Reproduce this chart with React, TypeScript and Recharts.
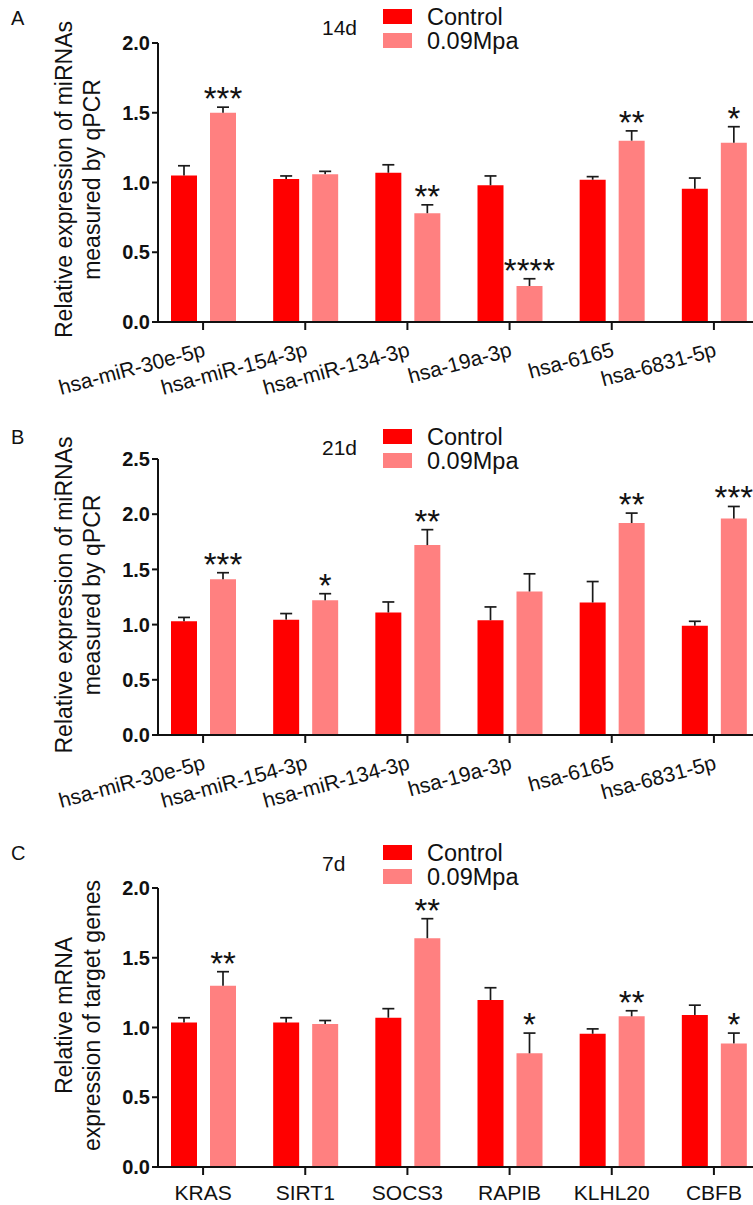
import React from 'react';
import { BarChart, Bar, XAxis, YAxis, LabelList, Legend } from 'recharts';

const FONT = '"Liberation Sans", Arial, Helvetica, sans-serif';

const mirnaCategories = ['hsa-miR-30e-5p', 'hsa-miR-154-3p', 'hsa-miR-134-3p', 'hsa-19a-3p', 'hsa-6165', 'hsa-6831-5p'];
const geneCategories = ['KRAS', 'SIRT1', 'SOCS3', 'RAPIB', 'KLHL20', 'CBFB'];
const seriesNames = ['Control', '0.09Mpa'];

// Panel A: 14d
const a14Control = [1.05, 1.025, 1.07, 0.98, 1.02, 0.955];
const a14ControlSem = [0.07, 0.022, 0.057, 0.067, 0.022, 0.077];
const a14Treated = [1.5, 1.06, 0.78, 0.258, 1.3, 1.285];
const a14TreatedSem = [0.04, 0.02, 0.06, 0.052, 0.07, 0.115];
const a14Sig = ['***', '', '**', '****', '**', '*'];

// Panel B: 21d
const b21Control = [1.03, 1.045, 1.11, 1.04, 1.2, 0.99];
const b21ControlSem = [0.035, 0.055, 0.095, 0.12, 0.19, 0.04];
const b21Treated = [1.41, 1.22, 1.72, 1.3, 1.92, 1.96];
const b21TreatedSem = [0.06, 0.06, 0.14, 0.16, 0.09, 0.11];
const b21Sig = ['***', '*', '**', '', '**', '***'];

// Panel C: 7d
const c7Control = [1.035, 1.035, 1.07, 1.197, 0.955, 1.09];
const c7ControlSem = [0.035, 0.035, 0.065, 0.088, 0.035, 0.07];
const c7Treated = [1.3, 1.025, 1.64, 0.815, 1.08, 0.886];
const c7TreatedSem = [0.1, 0.025, 0.14, 0.145, 0.04, 0.074];
const c7Sig = ['**', '', '**', '*', '**', '*'];

const ticks2 = [0, 0.5, 1, 1.5, 2];
const ticks25 = [0, 0.5, 1, 1.5, 2, 2.5];

const COLORS = ['#FF0000', '#FF8080'];

const ErrShape = (props: any) => {
  const { x, y, width, height } = props;
  if (!height || height <= 0) return null;
  const cx = x + width / 2;
  return (
    <g>
      <line x1={cx} x2={cx} y1={y} y2={y + height} stroke="#1a1a1a" strokeWidth={1.7} />
      <line x1={cx - 6} x2={cx + 6} y1={y} y2={y} stroke="#1a1a1a" strokeWidth={1.7} />
    </g>
  );
};

const SigLabel = (props: any) => {
  const { x, y, width, value } = props;
  if (!value) return null;
  return (
    <text x={x + width / 2} y={y + 3} textAnchor="middle" fontSize={33} fontFamily={FONT} fill="#111">
      {value}
    </text>
  );
};

const RotTick = (props: any) => {
  const { x, y, payload } = props;
  return (
    <g transform={`translate(${x},${y})`}>
      <text x={-3} y={24} textAnchor="end" transform="rotate(-15)" fontSize={21} fontFamily={FONT} fill="#111">
        {payload.value}
      </text>
    </g>
  );
};

const FlatTick = (props: any) => {
  const { x, y, payload } = props;
  return (
    <text x={x} y={y + 23} textAnchor="middle" fontSize={21} fontFamily={FONT} fill="#111">
      {payload.value}
    </text>
  );
};

const YLabel = (props: any) => {
  const { viewBox, lines, shift } = props;
  const cy = viewBox.y + viewBox.height / 2 + shift;
  const xs = [64, 92];
  return (
    <g>
      {lines.map((l: string, i: number) => (
        <text
          key={i}
          transform={`translate(${xs[i]},${cy}) rotate(-90)`}
          textAnchor="middle"
          dominantBaseline="central"
          fontSize={23}
          fontFamily={FONT}
          fill="#111"
        >
          {l}
        </text>
      ))}
    </g>
  );
};

const LegendBox = ({ title }: { title: string }) => (
  <div style={{ position: 'relative', width: 240, height: 52, fontFamily: FONT, color: '#111' }}>
    <div style={{ position: 'absolute', left: 2, top: 28 - 13, fontSize: 21, lineHeight: '26px' }}>{title}</div>
    {seriesNames.map((n, i) => (
      <React.Fragment key={n}>
        <div style={{ position: 'absolute', left: 63, top: 9 + i * 24, width: 29, height: 15, background: COLORS[i] }} />
        <div style={{ position: 'absolute', left: 107, top: 17 + i * 24 - 14, fontSize: 23.5, lineHeight: '28px' }}>{n}</div>
      </React.Fragment>
    ))}
  </div>
);

type PanelProps = {
  letter: string;
  title: string;
  categories: string[];
  control: number[];
  controlSem: number[];
  treated: number[];
  treatedSem: number[];
  sig: string[];
  yMax: number;
  yTicks: number[];
  yLines: string[];
  rotate: boolean;
  top: number;
  height: number;
  marginTop: number;
  xAxisHeight: number;
  legendTop: number;
  letterTop: number;
  labelShift: number;
};

const Panel = (p: PanelProps) => {
  const data = p.categories.map((name, i) => ({
    name,
    c: p.control[i],
    cErr: p.controlSem[i],
    t: p.treated[i],
    tErr: p.treatedSem[i],
    sig: p.sig[i],
  }));
  return (
    <div style={{ position: 'absolute', left: 0, top: p.top, width: 775, height: p.height }}>
      <div style={{ position: 'absolute', left: 11, top: p.letterTop - 12, fontSize: 20, fontFamily: FONT, color: '#111', lineHeight: '24px' }}>
        {p.letter}
      </div>
      <BarChart
        width={775}
        height={p.height}
        data={data}
        margin={{ top: p.marginTop, right: 10, left: 0, bottom: 0 }}
        barSize={26}
        barGap={13}
      >
        <XAxis
          dataKey="name"
          height={p.xAxisHeight}
          padding={{ left: -6, right: 0 }}
          tickSize={8}
          axisLine={{ stroke: '#111', strokeWidth: 2 }}
          tickLine={{ stroke: '#111', strokeWidth: 2 }}
          tick={p.rotate ? <RotTick /> : <FlatTick />}
          interval={0}
        />
        <YAxis
          width={158}
          domain={[0, p.yMax]}
          ticks={p.yTicks}
          tickSize={6}
          tickMargin={2}
          axisLine={{ stroke: '#111', strokeWidth: 2 }}
          tickLine={{ stroke: '#111', strokeWidth: 2 }}
          tick={{ fontSize: 20, fontWeight: 'bold', fill: '#111', fontFamily: FONT }}
          tickFormatter={(v: number) => v.toFixed(1)}
          label={<YLabel lines={p.yLines} shift={p.labelShift} />}
        />
        <Legend
          layout="vertical"
          align="center"
          verticalAlign="middle"
          wrapperStyle={{ position: 'absolute', left: 320, top: p.legendTop, width: 240 }}
          content={() => <LegendBox title={p.title} />}
        />
        <Bar dataKey="c" name={seriesNames[0]} stackId="c" fill={COLORS[0]} isAnimationActive={false} />
        <Bar dataKey="cErr" stackId="c" fill="none" shape={<ErrShape />} isAnimationActive={false} legendType="none" />
        <Bar dataKey="t" name={seriesNames[1]} stackId="t" fill={COLORS[1]} isAnimationActive={false} />
        <Bar dataKey="tErr" stackId="t" fill="none" shape={<ErrShape />} isAnimationActive={false} legendType="none">
          <LabelList dataKey="sig" content={<SigLabel />} />
        </Bar>
      </BarChart>
    </div>
  );
};

export default function App() {
  return (
    <div style={{ position: 'absolute', left: 0, top: 0, width: 753, height: 1205, overflow: 'hidden', background: '#fff' }}>
      <Panel
        letter="A"
        title="14d"
        categories={mirnaCategories}
        control={a14Control}
        controlSem={a14ControlSem}
        treated={a14Treated}
        treatedSem={a14TreatedSem}
        sig={a14Sig}
        yMax={2}
        yTicks={ticks2}
        yLines={['Relative expression of miRNAs', 'measured by qPCR']}
        rotate={true}
        top={0}
        height={410}
        marginTop={43}
        xAxisHeight={88}
        legendTop={0}
        letterTop={18}
        labelShift={-3}
      />
      <Panel
        letter="B"
        title="21d"
        categories={mirnaCategories}
        control={b21Control}
        controlSem={b21ControlSem}
        treated={b21Treated}
        treatedSem={b21TreatedSem}
        sig={b21Sig}
        yMax={2.5}
        yTicks={ticks25}
        yLines={['Relative expression of miRNAs', 'measured by qPCR']}
        rotate={true}
        top={410}
        height={420}
        marginTop={49}
        xAxisHeight={95}
        legendTop={10}
        letterTop={27}
        labelShift={-2}
      />
      <Panel
        letter="C"
        title="7d"
        categories={geneCategories}
        control={c7Control}
        controlSem={c7ControlSem}
        treated={c7Treated}
        treatedSem={c7TreatedSem}
        sig={c7Sig}
        yMax={2}
        yTicks={ticks2}
        yLines={['Relative mRNA', 'expression of target genes']}
        rotate={false}
        top={830}
        height={375}
        marginTop={58}
        xAxisHeight={38}
        legendTop={6}
        letterTop={23}
        labelShift={-12}
      />
    </div>
  );
}
